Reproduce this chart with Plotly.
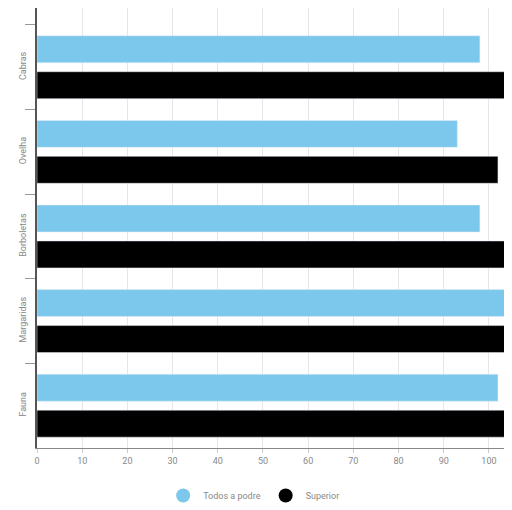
import plotly.graph_objects as go

categories = ["Cabras", "Ovelha", "Borboletas", "Margaridas", "Fauna"]
series_a_name = "Todos a podre"
series_b_name = "Superior"
series_a = [98, 93, 98, 104, 102]
series_b = [104, 102, 104, 104, 104]
x_ticks = [0, 10, 20, 30, 40, 50, 60, 70, 80, 90, 100]

blue = "#7cc8ec"
black = "#000000"

fig = go.Figure()
fig.add_trace(go.Bar(y=categories, x=series_a, orientation="h", name=series_a_name,
                     marker_color=blue, showlegend=False))
fig.add_trace(go.Bar(y=categories, x=series_b, orientation="h", name=series_b_name,
                     marker_color=black, showlegend=False))
# circle markers for the legend
fig.add_trace(go.Scatter(x=[None], y=[None], mode="markers", name=series_a_name,
                         marker=dict(color=blue, size=14)))
fig.add_trace(go.Scatter(x=[None], y=[None], mode="markers", name=series_b_name,
                         marker=dict(color=black, size=14)))

# page body has an 8px margin, so the figure is a bit smaller than the window
fig.update_layout(
    width=504, height=502,
    margin=dict(l=29, r=5, t=0, b=60),
    plot_bgcolor="white", paper_bgcolor="white",
    barmode="group", bargap=0.15, bargroupgap=0.25,
    font=dict(family="Roboto", size=9, color="#888888"),
    legend=dict(orientation="h", x=0.462, xanchor="center", y=-0.075, yanchor="top",
                font=dict(size=9, color="#888888"), itemwidth=30),
    xaxis=dict(range=[0, 104], tickvals=x_ticks, showgrid=True, gridcolor="#e6e6e6",
               showline=True, linecolor="#888888", ticks="outside", ticklen=4,
               tickcolor="#cccccc", zeroline=False, automargin=False),
    yaxis=dict(range=[4.5, -0.7], tickson="boundaries", ticks="outside", ticklen=10,
               tickcolor="#999999", tickangle=-90, showgrid=False, showline=True,
               linecolor="#555555", linewidth=1.5, automargin=False,
               ticklabelstandoff=6),
)

fig.write_html("out.html")
